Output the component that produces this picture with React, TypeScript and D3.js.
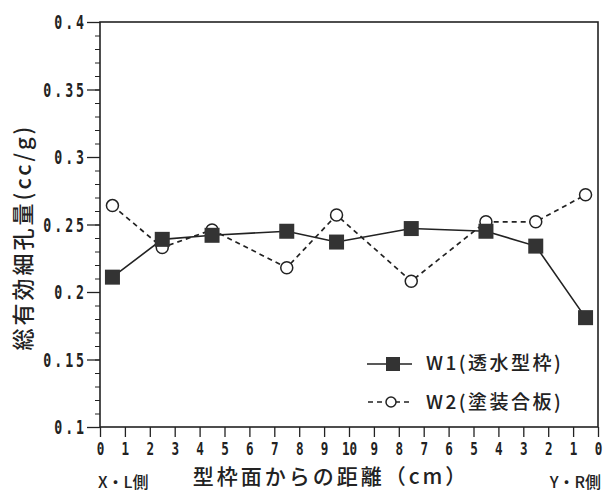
import React, { useEffect, useRef } from 'react';
import * as d3 from 'd3';

// x positions are tick indices 0..20 (0,1,...,10,...,1,0 across the specimen)
const xTickLabels = ['0', '1', '2', '3', '4', '5', '6', '7', '8', '9', '10', '9', '8', '7', '6', '5', '4', '3', '2', '1', '0'];
const positions = [0.5, 2.5, 4.5, 7.5, 9.5, 12.5, 15.5, 17.5, 19.5];
const w1Values = [0.211, 0.239, 0.242, 0.245, 0.237, 0.247, 0.245, 0.234, 0.181];
const w2Values = [0.264, 0.233, 0.246, 0.218, 0.257, 0.208, 0.252, 0.252, 0.272];
const yMajorTicks = [0.1, 0.15, 0.2, 0.25, 0.3, 0.35, 0.4];
const seriesNames = ['W1(透水型枠)', 'W2(塗装合板)'];

const ink = '#222';
const tickFont = '"DejaVu Sans Mono", monospace';
const jpFont = '"Noto Sans CJK JP", "Noto Sans", sans-serif';
const squeeze = 0.7;

const App = () => {
    const ref = useRef<SVGSVGElement>(null);

    useEffect(() => {
        const svg = d3.select(ref.current);
        svg.selectAll('*').remove();

        const left = 100, right = 598, top = 22, bottom = 427;

        const x = d3.scaleLinear().domain([0, 20]).range([left, right]);
        const y = d3.scaleLinear().domain([0.1, 0.4]).range([bottom, top]);

        // frame
        svg.append('rect')
            .attr('x', left).attr('y', top)
            .attr('width', right - left).attr('height', bottom - top)
            .attr('fill', 'none').attr('stroke', ink).attr('stroke-width', 1.6);

        // y axis minor ticks
        const minor = d3.range(10, 41).map(v => v / 100);
        svg.append('g')
            .attr('transform', `translate(${left},0)`)
            .call(d3.axisLeft(y).tickValues(minor).tickSize(5).tickFormat(() => ''))
            .call(g => g.select('.domain').remove())
            .selectAll('line').attr('stroke', ink).attr('stroke-width', 1);

        // y axis major ticks and labels
        const yAxis = svg.append('g')
            .attr('transform', `translate(${left},0)`)
            .call(d3.axisLeft(y).tickValues(yMajorTicks).tickSize(13)
                .tickFormat(d => String(+(+d).toFixed(2))));
        yAxis.select('.domain').remove();
        yAxis.selectAll('line').attr('stroke', ink).attr('stroke-width', 1.3);
        yAxis.selectAll('text')
            .attr('fill', ink)
            .attr('x', -13 / squeeze)
            .attr('dy', '0.36em')
            .attr('transform', `scale(${squeeze},1)`)
            .style('font-family', tickFont)
            .style('font-weight', 'bold')
            .style('font-size', '19px')
            .style('letter-spacing', '4.2px');

        // x axis
        const xAxis = svg.append('g')
            .attr('transform', `translate(0,${bottom})`)
            .call(d3.axisBottom(x).tickValues(d3.range(21)).tickSize(10).tickPadding(5)
                .tickFormat(i => xTickLabels[+i]));
        xAxis.select('.domain').remove();
        xAxis.selectAll('line').attr('stroke', ink).attr('stroke-width', 1.3);
        xAxis.selectAll('text')
            .attr('fill', ink)
            .attr('transform', `scale(${squeeze},1)`)
            .style('font-family', tickFont)
            .style('font-weight', 'bold')
            .style('font-size', '18px');

        const w1 = positions.map((p, i) => ({ x: p, y: w1Values[i] }));
        const w2 = positions.map((p, i) => ({ x: p, y: w2Values[i] }));
        const line = d3.line<{ x: number, y: number }>().x(d => x(d.x)).y(d => y(d.y));

        svg.append('path').datum(w2)
            .attr('d', line).attr('fill', 'none')
            .attr('stroke', ink).attr('stroke-width', 1.7).attr('stroke-dasharray', '5,4');
        svg.append('path').datum(w1)
            .attr('d', line).attr('fill', 'none')
            .attr('stroke', ink).attr('stroke-width', 1.6);

        svg.append('g').selectAll('circle').data(w2).join('circle')
            .attr('cx', d => x(d.x)).attr('cy', d => y(d.y)).attr('r', 6)
            .attr('fill', 'white').attr('stroke', ink).attr('stroke-width', 1.5);
        svg.append('g').selectAll('rect').data(w1).join('rect')
            .attr('x', d => x(d.x) - 7.5).attr('y', d => y(d.y) - 7.5)
            .attr('width', 15).attr('height', 15)
            .attr('fill', '#333');

        // legend
        const lg = svg.append('g');
        lg.append('line').attr('x1', 367).attr('x2', 412).attr('y1', 364).attr('y2', 364)
            .attr('stroke', ink).attr('stroke-width', 1.6);
        lg.append('rect').attr('x', 386).attr('y', 357).attr('width', 14).attr('height', 14).attr('fill', '#333');
        lg.append('text').attr('x', 426).attr('y', 370).text(seriesNames[0])
            .attr('fill', ink).style('font-family', jpFont).style('font-weight', 500)
            .style('font-size', '19px').style('letter-spacing', '2.5px');
        lg.append('line').attr('x1', 368).attr('x2', 410).attr('y1', 402).attr('y2', 402)
            .attr('stroke', ink).attr('stroke-width', 1.5).attr('stroke-dasharray', '5,4');
        lg.append('circle').attr('cx', 391).attr('cy', 402).attr('r', 5)
            .attr('fill', 'white').attr('stroke', ink).attr('stroke-width', 1.5);
        lg.append('text').attr('x', 426).attr('y', 409).text(seriesNames[1])
            .attr('fill', ink).style('font-family', jpFont).style('font-weight', 500)
            .style('font-size', '19px').style('letter-spacing', '2.5px');

        // axis titles
        svg.append('text')
            .attr('transform', `translate(31,${237}) rotate(-90)`)
            .attr('text-anchor', 'middle')
            .attr('fill', ink)
            .style('font-family', jpFont).style('font-weight', 500)
            .style('font-size', '22px').style('letter-spacing', '3px')
            .text('総有効細孔量(cc/g)');

        svg.append('text')
            .attr('x', 331).attr('y', 484)
            .attr('text-anchor', 'middle')
            .attr('fill', ink)
            .style('font-family', jpFont).style('font-weight', 500)
            .style('font-size', '21px').style('letter-spacing', '3px')
            .text('型枠面からの距離（cm）');

        svg.append('text')
            .attr('x', 98).attr('y', 488)
            .attr('fill', ink)
            .style('font-family', jpFont).style('font-weight', 500).style('font-size', '16px')
            .text('X・L側');

        svg.append('text')
            .attr('x', 601).attr('y', 488)
            .attr('text-anchor', 'end')
            .attr('fill', ink)
            .style('font-family', jpFont).style('font-weight', 500).style('font-size', '16px')
            .text('Y・R側');
    }, []);

    return (
        <svg ref={ref} width={608} height={494}
            style={{ position: 'absolute', left: 0, top: 0, background: 'white' }} />
    );
};

export default App;
